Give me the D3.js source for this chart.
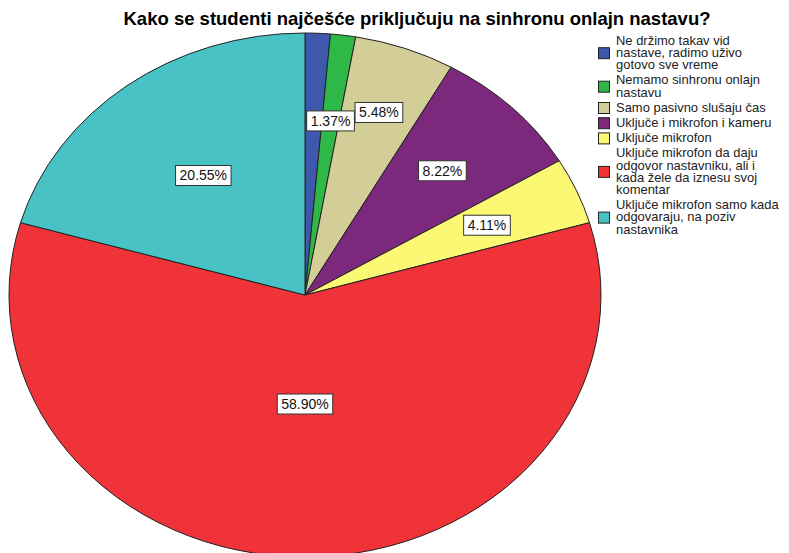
<!DOCTYPE html>
<html>
<head>
<meta charset="utf-8">
<script src="https://cdn.jsdelivr.net/npm/d3@7"></script>
<style>
  body { margin: 0; background: #fff; }
  svg { display: block; font-family: Arial, "Liberation Sans", sans-serif; }
</style>
</head>
<body>
<div id="chart"></div>
<script>
// answers, already wrapped the way the legend shows them
const categories = [
  ["Ne držimo takav vid", "nastave, radimo uživo", "gotovo sve vreme"],
  ["Nemamo sinhronu onlajn", "nastavu"],
  ["Samo pasivno slušaju čas"],
  ["Uključe i mikrofon i kameru"],
  ["Uključe mikrofon"],
  ["Uključe mikrofon da daju", "odgovor nastavniku, ali i", "kada žele da iznesu svoj", "komentar"],
  ["Uključe mikrofon samo kada", "odgovaraju, na poziv", "nastavnika"]
];
const percents = [1.37, 1.37, 5.48, 8.22, 4.11, 58.90, 20.55];
const colors = ["#3E58AC", "#2EB848", "#D3CE97", "#7C287D", "#FBF873", "#EF3338", "#48C2C5"];
const title = "Kako se studenti najčešće priključuju na sinhronu onlajn nastavu?";

const width = 789, height = 553;
const cx = 305, cy = 295, rx = 296, ry = 262;

const svg = d3.select("#chart")
  .append("svg")
  .attr("width", width)
  .attr("height", height);

svg.append("text")
  .attr("x", 417)
  .attr("y", 25)
  .attr("text-anchor", "middle")
  .attr("font-size", "18.5px")
  .attr("font-weight", "bold")
  .attr("fill", "#000")
  .text(title);

let pie = d3.pie().sort(null).value(d => d);
let arcs = pie(percents);

// pie is a bit squashed vertically, so draw a circle and scale it
let arc = d3.arc().innerRadius(0).outerRadius(rx);

svg.append("g")
  .attr("transform", `translate(${cx},${cy}) scale(1,${ry / rx})`)
  .selectAll("path")
  .data(arcs)
  .join("path")
  .attr("d", arc)
  .attr("fill", (d, i) => colors[i])
  .attr("stroke", "#222")
  .attr("stroke-width", 1)
  .attr("vector-effect", "non-scaling-stroke");

// labels sit closer to the centre for the big slices
function labelPos(d, f) {
  let mid = (d.startAngle + d.endAngle) / 2;
  return [cx + f * rx * Math.sin(mid), cy - f * ry * Math.cos(mid)];
}

let labelG = svg.append("g");
let boxes = [];
arcs.forEach((d, i) => {
  let p = d.value / 100;
  let f = 0.67 - 0.40 * Math.pow(Math.max(0, p - 0.08), 0.673);
  let g = labelG.append("g");
  let t = g.append("text")
    .attr("text-anchor", "middle")
    .attr("dominant-baseline", "central")
    .attr("font-size", "14px")
    .attr("fill", "#111")
    .text(d3.format(".2f")(d.value) + "%");
  let bb = t.node().getBBox();
  let w = bb.width + 8, h = 20;
  let pos = labelPos(d, f);
  boxes.push({ g, d, f, w, h, text: t.text(), x: pos[0], y: pos[1] });
});

function overlaps(a, b) {
  return Math.abs(a.x - b.x) < (a.w + b.w) / 2 && Math.abs(a.y - b.y) < (a.h + b.h) / 2;
}

// same value stacked on the same spot: keep the later one only
boxes.forEach((b, i) => {
  let next = boxes[i + 1];
  if (next && next.text === b.text && overlaps(b, next)) b.hidden = true;
});

// push a label outwards while it collides with an earlier one
boxes.forEach((b, i) => {
  if (b.hidden) return;
  let guard = 0;
  while (boxes.slice(0, i).some(o => !o.hidden && overlaps(o, b)) && guard < 80) {
    b.f += 0.01;
    [b.x, b.y] = labelPos(b.d, b.f);
    guard++;
  }
});

boxes.forEach(b => {
  if (b.hidden) { b.g.remove(); return; }
  b.g.attr("transform", `translate(${b.x},${b.y})`);
  b.g.insert("rect", "text")
    .attr("x", -b.w / 2)
    .attr("y", -b.h / 2)
    .attr("width", b.w)
    .attr("height", b.h)
    .attr("fill", "#fff")
    .attr("stroke", "#333")
    .attr("stroke-width", 1);
});

// legend - text is a little wider than it is tall, like the original
const lineH = 12.2, gap = 3;
const textX = 616, sx = 1.2, sy = 1.1;
let legend = svg.append("g");
let y0 = 41;
categories.forEach((lines, i) => {
  let blockMid = y0 + (lines.length - 1) * lineH / 2;
  legend.append("rect")
    .attr("x", 598.5)
    .attr("y", blockMid - 5.5)
    .attr("width", 11)
    .attr("height", 11)
    .attr("fill", colors[i])
    .attr("stroke", "#222")
    .attr("stroke-width", 1);
  lines.forEach((ln, j) => {
    legend.append("text")
      .attr("transform", `translate(${textX},${y0 + j * lineH}) scale(${sx},${sy})`)
      .attr("dominant-baseline", "central")
      .attr("font-size", "10.8px")
      .attr("fill", "#222")
      .text(ln);
  });
  y0 += lines.length * lineH + gap;
});
</script>
</body>
</html>
